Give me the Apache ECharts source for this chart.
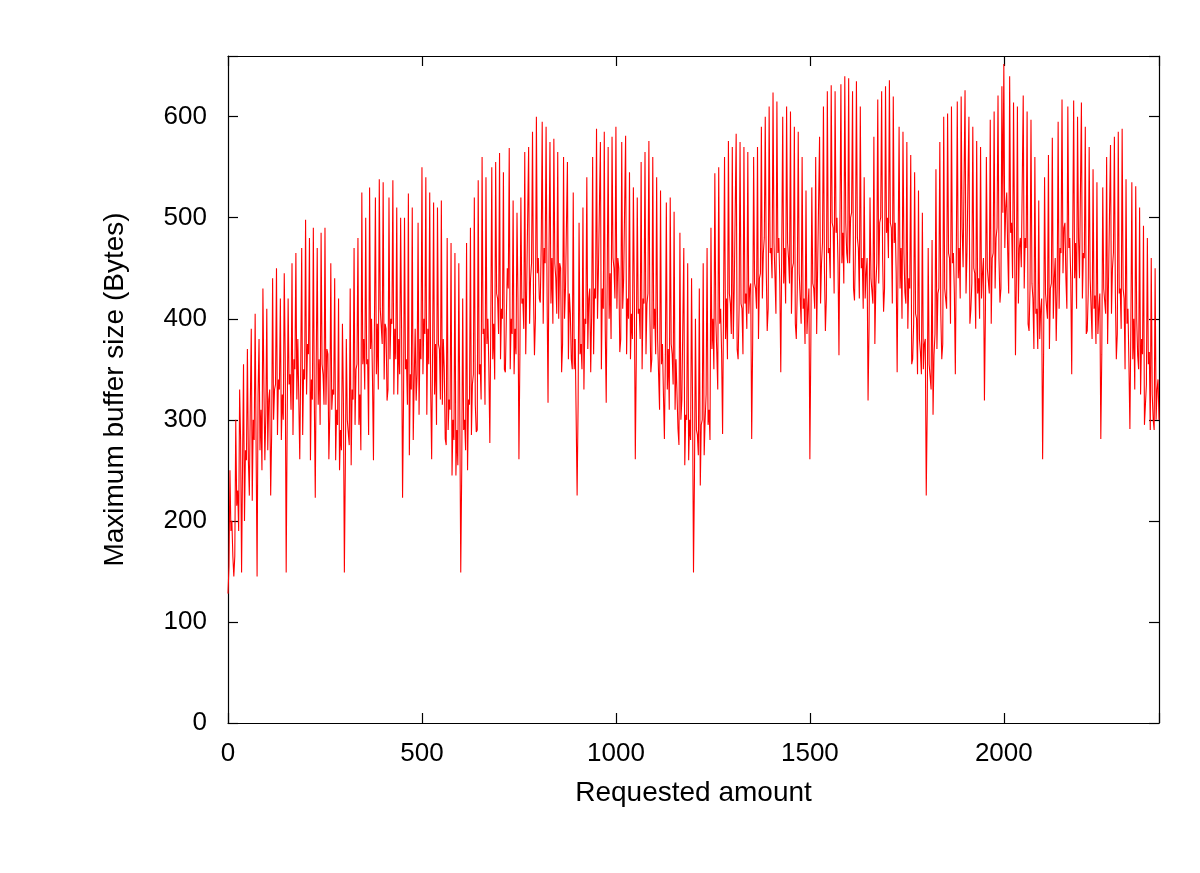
<!DOCTYPE html>
<html>
<head>
<meta charset="utf-8">
<script src="https://cdn.jsdelivr.net/npm/echarts@6/dist/echarts.min.js"></script>
<style>
html,body{margin:0;padding:0;background:#fff;}
#chart{width:1200px;height:873px;}
</style>
</head>
<body>
<div id="chart"></div>
<script>
// Samples at every STEP units of "Requested amount" (x = 0, 5, 10, ... 2400)
var STEP = 5;
var seg0000 = [128,250,200,145,300,230,330,149,355,270,370,225,390,300,405,145,380,310,430,260,410,320,225,440,330,450,340,420,325,445];
var seg0150 = [149,420,345,455,360,465,380,261,470,350,498,375,480,340,490,223,470,360,485,345,490,370,261,455,330,440,310,420,290,395];
var seg0300 = [149,380,300,430,330,470,350,480,325,525,380,500,360,530,400,260,520,395,538,410,535,395,319,520,400,537,390,510,380,500];
var seg0450 = [223,500,360,524,345,510,340,319,495,380,550,400,540,390,525,261,515,375,510,370,517,380,281,480,320,475,300,465,290,455];
var seg0600 = [149,420,300,475,320,490,335,520,288,537,355,560,390,540,400,277,550,395,555,420,564,410,545,347,450,569,400,517,390,505];
var seg0750 = [261,520,420,565,430,570,440,585,364,600,460,416,595,470,590,317,575,460,578,440,565,455,347,560,430,555,425,360,525,380];
var seg0900 = [225,495,375,510,400,540,420,347,560,430,588,450,575,430,585,317,570,445,580,450,590,460,367,575,440,581,420,545,405,530];
var seg1050 = [261,520,410,555,420,565,415,576,347,560,410,540,380,527,375,281,515,370,520,365,506,360,291,485,320,470,305,455,300,440];
var seg1200 = [149,400,285,430,295,455,300,470,310,490,400,544,367,550,410,286,560,420,576,415,570,430,583,360,575,410,570,425,565,430];
var seg1350 = [281,560,430,570,440,590,465,600,388,610,470,624,442,615,480,347,600,470,610,460,605,450,590,380,585,445,560,420,527,410];
var seg1500 = [261,530,430,560,450,580,455,610,388,625,470,631,490,625,500,364,632,485,640,465,638,500,625,418,635,470,610,460,540,445];
var seg1650 = [319,520,440,580,433,617,495,625,407,630,500,636,490,620,495,347,590,470,585,426,575,440,562,360,545,400,527,367,505,375];
var seg1800 = [225,470,355,478,364,548,425,575,360,600,430,603,460,610,465,345,615,470,620,451,626,465,600,409,590,445,576,440,570,445];
var seg1950 = [319,560,450,597,460,605,480,621,416,630,652,510,466,640,495,614,364,610,470,451,621,480,605,388,597,420,560,410,517,409];
var seg2100 = [261,540,425,562,430,579,440,378,595,470,617,490,440,610,480,345,616,475,600,440,614,465,590,388,570,440,548,423,535,410];
var seg2250 = [281,530,430,560,440,572,450,580,360,585,430,588,420,538,410,291,535,400,531,364,510,380,492,294,480,367,460,300,450,330,300];

// In-between samples (x = 2.5, 7.5, ... 2397.5)
var mid0000 = [155,190,165,165,215,190,280,255,200,260,260,315,220,280,270,325,270,250,335,305,270,330,285,300,335,285,330,280,300,360];
var mid0150 = [295,335,310,285,350,320,380,355,285,340,325,365,260,320,320,360,315,295,355,315,315,365,305,310,325,260,295,250,270,320];
var mid0300 = [255,300,275,255,320,295,355,295,270,355,330,355,285,370,340,395,345,330,410,375,340,390,330,360,395,325,360,325,345,390];
var mid0450 = [320,350,315,265,330,280,390,345,305,360,345,385,305,355,330,370,325,295,375,320,315,350,275,290,310,245,280,245,255,310];
var mid0600 = [250,290,270,250,315,285,345,315,290,345,320,385,315,375,350,400,360,340,425,385,360,400,350,400,430,350,385,345,365,420];
var mid0750 = [365,415,390,365,430,395,455,425,400,445,420,475,395,455,425,465,415,395,455,405,400,450,375,400,430,360,405,350,350,380];
var mid0900 = [315,365,350,330,395,370,430,405,365,420,400,450,350,410,390,440,400,380,460,420,410,450,380,410,440,365,400,360,380,425];
var mid1050 = [360,405,380,350,415,365,425,405,360,390,365,380,310,355,325,365,330,310,375,335,310,360,275,300,320,255,300,260,280,320];
var mid1200 = [245,290,265,235,300,265,325,295,280,370,350,400,330,395,365,415,380,360,425,385,380,430,370,410,415,365,415,390,405,435];
var mid1350 = [375,435,410,380,445,420,480,450,410,465,440,475,405,465,435,470,435,415,475,435,405,455,395,430,445,395,410,375,385,430];
var mid1500 = [375,435,410,385,450,415,475,450,420,465,440,495,425,485,455,495,455,435,495,455,455,505,430,470,480,420,450,410,420,460];
var mid1650 = [390,440,415,375,455,435,500,460,430,485,460,495,415,475,445,470,430,400,465,415,390,430,355,395,405,345,380,345,350,380];
var mid1800 = [310,355,330,305,385,370,430,405,375,430,410,465,395,455,425,465,440,420,490,450,425,465,395,435,450,390,425,400,420,460];
var mid1950 = [405,450,425,395,465,430,490,460,430,505,470,525,425,485,440,490,445,415,480,450,430,470,395,430,435,370,405,370,380,420];
var mid2100 = [365,425,400,370,435,400,460,430,410,465,445,495,410,470,440,475,440,410,480,440,420,460,385,425,440,380,410,375,385,425];
var mid2250 = [365,430,405,375,440,405,465,425,385,425,390,430,350,395,355,395,360,330,400,350,325,365,295,335,355,290,325,290,300,340];

var xTicks = [0, 500, 1000, 1500, 2000];
var yTicks = [0, 100, 200, 300, 400, 500, 600];
var xTitle = 'Requested amount';
var yTitle = 'Maximum buffer size (Bytes)';

var mains = [].concat(seg0000, seg0150, seg0300, seg0450, seg0600, seg0750, seg0900, seg1050,
  seg1200, seg1350, seg1500, seg1650, seg1800, seg1950, seg2100, seg2250);
var mids = [].concat(mid0000, mid0150, mid0300, mid0450, mid0600, mid0750, mid0900, mid1050,
  mid1200, mid1350, mid1500, mid1650, mid1800, mid1950, mid2100, mid2250);
var data = [];
for (var i = 0; i < mains.length; i++) {
  data.push([i * STEP, mains[i]]);
  if (i < mids.length) data.push([i * STEP + STEP / 2, mids[i]]);
}

var FONT = 'Liberation Sans, Arial, Helvetica, sans-serif';
var chart = echarts.init(document.getElementById('chart'), null, {renderer: 'canvas'});
var lineStyle = {color: '#000', width: 1.2};
chart.setOption({
  animation: false,
  backgroundColor: '#fff',
  grid: {left: 228, right: 41, top: 56, bottom: 150, containLabel: false},
  xAxis: [{
    type: 'value', min: 0, max: 2400, interval: 500, position: 'bottom',
    name: xTitle, nameLocation: 'middle', nameGap: 56,
    nameTextStyle: {color: '#000', fontSize: 28, fontFamily: FONT},
    axisLine: {show: true, onZero: false, lineStyle: lineStyle},
    axisTick: {show: true, inside: true, length: 10, lineStyle: lineStyle},
    axisLabel: {show: true, margin: 18, color: '#000', fontSize: 26, fontFamily: FONT,
      formatter: function (v) { return xTicks.indexOf(v) >= 0 ? String(v) : ''; }},
    splitLine: {show: false}
  }, {
    type: 'value', min: 0, max: 2400, interval: 500, position: 'top',
    axisLine: {show: true, onZero: false, lineStyle: lineStyle},
    axisTick: {show: true, inside: true, length: 10, lineStyle: lineStyle},
    axisLabel: {show: false}, splitLine: {show: false}
  }],
  yAxis: [{
    type: 'value', min: 0, max: 660, interval: 100, position: 'left',
    name: yTitle, nameLocation: 'middle', nameGap: 99, nameRotate: 90,
    nameTextStyle: {color: '#000', fontSize: 28, fontFamily: FONT},
    axisLine: {show: true, onZero: false, lineStyle: lineStyle},
    axisTick: {show: true, inside: true, length: 10, lineStyle: lineStyle},
    axisLabel: {show: true, margin: 21, color: '#000', fontSize: 26, fontFamily: FONT,
      formatter: function (v) { return yTicks.indexOf(v) >= 0 ? String(v) : ''; }},
    splitLine: {show: false}
  }, {
    type: 'value', min: 0, max: 660, interval: 100, position: 'right',
    axisLine: {show: true, onZero: false, lineStyle: lineStyle},
    axisTick: {show: true, inside: true, length: 10, lineStyle: lineStyle},
    axisLabel: {show: false}, splitLine: {show: false}
  }],
  series: [{
    type: 'line', xAxisIndex: 0, yAxisIndex: 0, data: data,
    showSymbol: false, symbol: 'none', sampling: null, smooth: false,
    lineStyle: {color: '#ff0000', width: 1.1},
    silent: true, z: 1
  }]
});
</script>
</body>
</html>
